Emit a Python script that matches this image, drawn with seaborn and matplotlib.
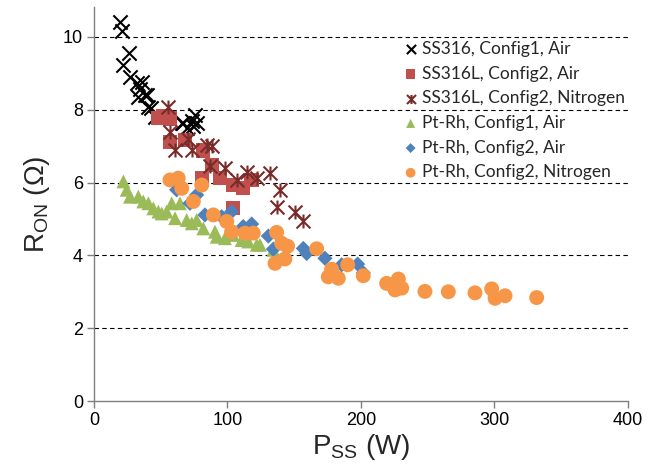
import numpy as np
import pandas as pd
import matplotlib
matplotlib.use("Agg")
import matplotlib.pyplot as plt
from matplotlib.path import Path
import seaborn as sns

# ---- data ----
ss316_c1_air_x = [19.5, 20.7, 26.5, 21.5, 27, 32, 35.7, 34.5, 38, 33, 39.5, 40.7, 43, 45.7, 65.7, 66.9, 69.4, 73.2, 74.4, 75.7, 77]
ss316_c1_air_y = [10.4, 10.15, 9.57, 9.23, 8.9, 8.73, 8.77, 8.56, 8.4, 8.36, 8.4, 8.07, 8.04, 7.81, 7.63, 7.63, 7.49, 7.68, 7.54, 7.86, 7.63]

ss316l_c2_air_x = [48, 52, 57, 57, 68.2, 81.9, 88.2, 80.7, 94.4, 104.3, 111.8, 118, 104.3]
ss316l_c2_air_y = [7.77, 7.81, 7.76, 7.12, 7.17, 6.88, 6.48, 6.12, 6.12, 5.93, 5.84, 6.07, 5.29]

ss316l_c2_n2_x = [55.7, 57, 60.7, 70.6, 73.2, 84.4, 88.1, 86.9, 98.1, 106.9, 114.4, 121.9, 131.8, 139.3, 136.8, 150.6, 156.3]
ss316l_c2_n2_y = [8.08, 7.4, 6.9, 7.2, 6.9, 7.03, 6.99, 6.44, 6.39, 6.07, 6.3, 6.12, 6.25, 5.8, 5.34, 5.2, 4.93]

ptrh_c1_air_x = [22, 24.5, 27, 33.2, 36.9, 40.7, 44.4, 48.2, 50.7, 54.4, 58.2, 64.4, 60.7, 69.4, 73.2, 76.9, 81.9,
                 90.6, 91.9, 98.1, 104.3, 110.6, 115.6, 121.9, 124.3, 134.3]
ptrh_c1_air_y = [6.03, 5.8, 5.61, 5.61, 5.48, 5.43, 5.29, 5.2, 5.15, 5.2, 5.43, 5.43, 5.02, 4.97, 4.88, 4.97, 4.74,
                 4.65, 4.51, 4.47, 4.56, 4.42, 4.38, 4.29, 4.29, 4.15]

ptrh_c2_air_x = [61.9, 71.9, 76.9, 83.1, 95.6, 103.1, 111.8, 118.1, 130.6, 134.3, 156.8, 159.3, 173, 185.5, 197.5, 201.7]
ptrh_c2_air_y = [5.8, 5.43, 5.66, 5.11, 5.06, 5.2, 4.79, 4.86, 4.53, 4.17, 4.19, 4.05, 3.92, 3.74, 3.76, 3.52]

ptrh_c2_n2_x = [56.9, 63.1, 65.7, 80.7, 74.4, 89.4, 99.4, 103.1, 113.1, 119.3, 136.8, 140.6, 145, 166.8, 135.6, 143,
                178, 175.5, 183, 190, 201.7, 219.2, 228, 225.5, 230.5, 247.9, 265.4, 285.4, 297.9, 300.4, 307.9, 331.6]
ptrh_c2_n2_y = [6.07, 6.12, 5.84, 5.93, 5.48, 5.11, 4.93, 4.65, 4.61, 4.61, 4.63, 4.33, 4.25, 4.18, 3.78, 3.9,
                3.62, 3.41, 3.37, 3.74, 3.44, 3.23, 3.35, 3.05, 3.1, 3.01, 3.0, 2.97, 3.08, 2.82, 2.89, 2.84]

labels = ["SS316, Config1, Air", "SS316L, Config2, Air", "SS316L, Config2, Nitrogen",
          "Pt-Rh, Config1, Air", "Pt-Rh, Config2, Air", "Pt-Rh, Config2, Nitrogen"]

x_ticks = [0, 100, 200, 300, 400]
y_ticks = [0, 2, 4, 6, 8, 10]

# ---- style ----
sns.set_theme(style="white")
plt.rcParams["font.family"] = ["Liberation Sans", "DejaVu Sans"]
plt.rcParams["mathtext.default"] = "regular"

star = Path([(-1, -1), (1, 1), (-1, 1), (1, -1), (0, -1.0), (0, 1.0)],
            [Path.MOVETO, Path.LINETO, Path.MOVETO, Path.LINETO, Path.MOVETO, Path.LINETO])

fig = plt.figure(figsize=(6.55, 4.75), dpi=100)
ax = fig.add_axes([94 / 655, 74 / 475, 534 / 655, 394 / 475])

series = [
    (ss316_c1_air_x, ss316_c1_air_y, "x", "#000000", 105, 1.5),
    (ss316l_c2_air_x, ss316l_c2_air_y, "s", "#C0504D", 105, 0),
    (ss316l_c2_n2_x, ss316l_c2_n2_y, star, "#772C2A", 100, 1.5),
    (ptrh_c1_air_x, ptrh_c1_air_y, "^", "#9BBB59", 100, 0),
    (ptrh_c2_air_x, ptrh_c2_air_y, "D", "#4F81BD", 60, 0),
    (ptrh_c2_n2_x, ptrh_c2_n2_y, "o", "#F79646", 115, 0),
]
order = [3, 4, 1, 0, 2, 5]
for i in order:
    xs, ys, m, c, s, lw = series[i]
    df = pd.DataFrame({"P": xs, "R": ys})
    kw = dict(marker=m, s=s, ax=ax, zorder=3 + i, label=labels[i])
    if lw > 0:
        kw.update(color=c, edgecolor=c, linewidth=lw)
    else:
        kw.update(color=c, edgecolor="none", linewidth=0)
    sns.scatterplot(data=df, x="P", y="R", **kw)

ax.set_xlim(0, 400)
ax.set_ylim(0, 10.82)
ax.set_xticks(x_ticks)
ax.set_yticks(y_ticks)
ax.tick_params(axis="both", which="both", direction="out", length=5, width=1, color="#7f7f7f",
               labelsize=13, labelcolor="#000000", bottom=True, left=True, pad=3)
for sp in ["top", "right"]:
    ax.spines[sp].set_visible(False)
for sp in ["left", "bottom"]:
    ax.spines[sp].set_color("#7f7f7f")
    ax.spines[sp].set_linewidth(1)

for yv in y_ticks[1:]:
    ax.axhline(yv, color="black", linestyle=(0, (4, 3)), linewidth=0.8, zorder=1)

ax.set_xlabel("P$_{SS}$ (W)", fontsize=20, labelpad=2)
ax.set_ylabel("R$_{ON}$ (Ω)", fontsize=20, labelpad=8)

h, l = ax.get_legend_handles_labels()
hd = dict(zip(l, h))
leg = ax.legend([hd[k] for k in labels], labels, loc="upper left",
                bbox_to_anchor=(395 / 655, 1 - 34 / 475), bbox_transform=fig.transFigure,
                frameon=False, fontsize=12.5, labelspacing=0.5, handletextpad=0.15,
                handlelength=1.0, markerscale=0.65, borderaxespad=0)
for t in leg.get_texts():
    t.set_family(["Lato", "DejaVu Sans"])

fig.savefig("out.png", dpi=100)
